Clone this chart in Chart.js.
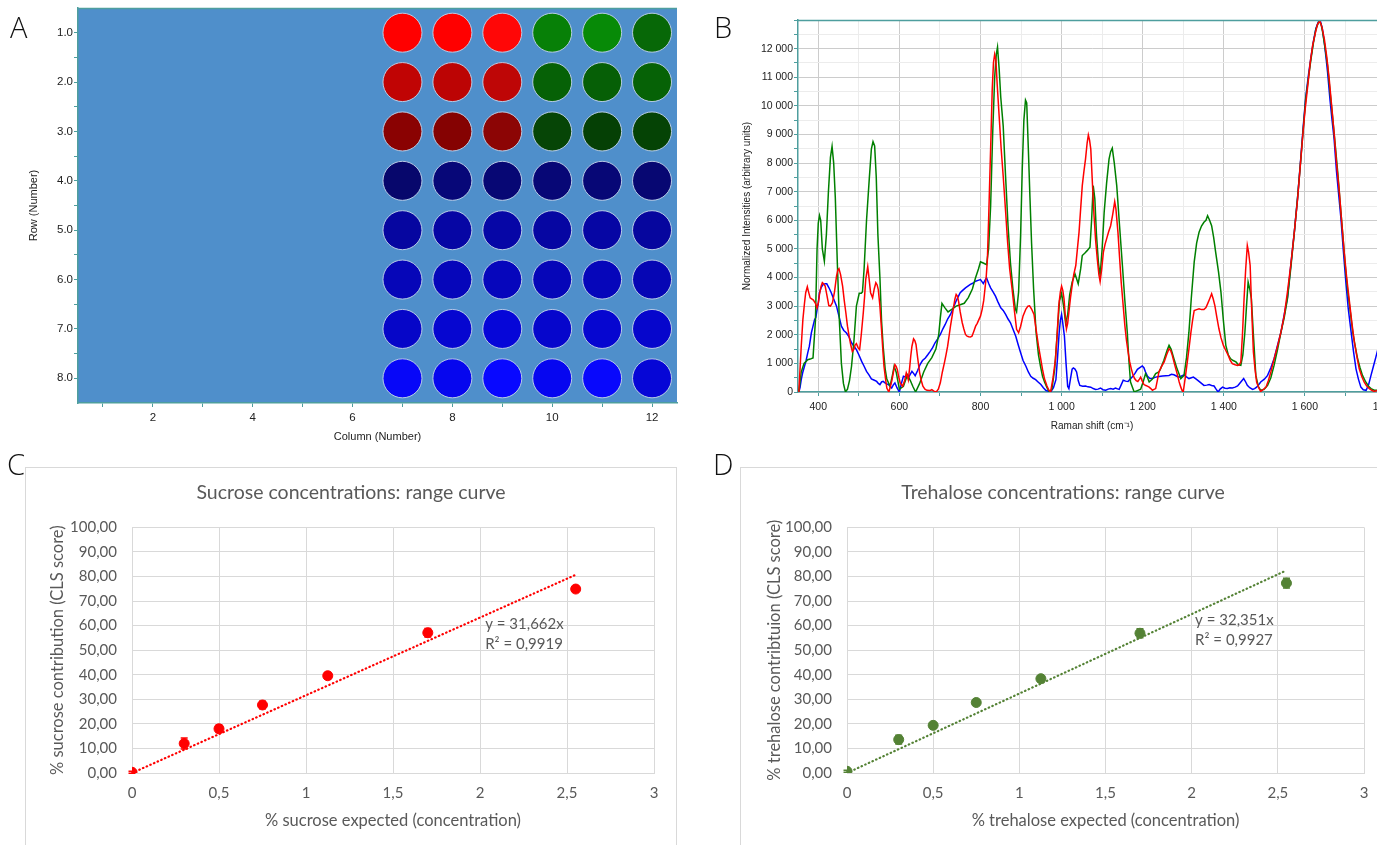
<!DOCTYPE html>
<html lang="en">
<head>
  <meta charset="UTF-8" />
  <title>Plate map, Raman spectra and range curves</title>
  <script src="https://cdn.jsdelivr.net/npm/chart.js"></script>
  <style>
    html, body { margin: 0; padding: 0; background: #fff; overflow: hidden; width: 1377px; height: 845px; }
    .panel { position: absolute; }
    .frame { position: absolute; border: 1px solid #d9d9d9; background: #fff; }
    .frame canvas { display: block; }
    .tag { position: absolute; font-family: 'Open Sans', 'Liberation Sans', sans-serif; font-weight: 300; font-size: 29px; line-height: 1; color: #111; }
  </style>
</head>
<body>
  <canvas id="plate" class="panel" width="690" height="450" style="left:0;top:0"></canvas>
  <canvas id="raman" class="panel" width="720" height="450" style="left:690px;top:0"></canvas>
  <div class="frame" style="left:25px;top:467px"><canvas id="sucrose" width="650" height="377"></canvas></div>
  <div class="frame" style="left:740px;top:467px"><canvas id="trehalose" width="644" height="377"></canvas></div>

  <div class="tag" style="left:10px;top:12px">A</div>
  <div class="tag" style="left:714px;top:12px">B</div>
  <div class="tag" style="left:7px;top:449px">C</div>
  <div class="tag" style="left:713px;top:449px">D</div>

  <script>
    // ---------- A: plate map ----------
    const plateRows = [1, 2, 3, 4, 5, 6, 7, 8];
    const plateCols = [7, 8, 9, 10, 11, 12];
    const wellColors = [
      ['#ff0000', '#ff0000', '#ff0707', '#078007', '#078a07', '#076807'],
      ['#c00404', '#bc0404', '#be0606', '#066106', '#065f06', '#066206'],
      ['#8a0202', '#850202', '#8c0505', '#064506', '#054005', '#054305'],
      ['#07076c', '#070778', '#070774', '#070776', '#070776', '#070772'],
      ['#0606a0', '#0606a4', '#0606a6', '#0606a2', '#0606a4', '#06069e'],
      ['#0606b8', '#0606ba', '#0606bc', '#0606b8', '#0606ba', '#0606b4'],
      ['#0606c8', '#0606d0', '#0606d8', '#0606cc', '#0606d0', '#0606cc'],
      ['#0707f8', '#0606ee', '#0808ff', '#0606f0', '#0808fc', '#0606d6']
    ];
    const plateColTicks = [1, 2, 3, 4, 5, 6, 7, 8, 9, 10, 11, 12];
    const plateRowTicks = [1, 1.5, 2, 2.5, 3, 3.5, 4, 4.5, 5, 5.5, 6, 6.5, 7, 7.5, 8];

    // ---------- B: Raman spectra [shift, intensity] ----------
    const redSpectrum = [[352,0],[355,800],[358,1600],[362,2530],[366,3100],[369,3470],[373,3680],[376,3500],[380,3290],[388,3210],[393,3100],[397,2940],[400,3100],[403,3410],[407,3700],[410,3820],[413,3780],[417,3700],[421,3400],[426,3020],[430,3000],[435,3120],[440,3500],[445,4050],[448,4250],[451,4310],[455,4100],[460,3700],[464,3200],[468,2770],[472,2300],[476,1950],[480,1650],[484,1420],[488,1500],[491,1650],[494,1690],[498,1550],[502,1480],[506,2000],[511,2770],[514,3300],[517,3930],[520,4200],[522,4380],[525,4000],[529,3470],[534,3290],[538,3600],[542,3820],[545,3750],[548,3580],[552,3000],[556,2180],[559,1500],[562,900],[566,450],[569,140],[574,0],[578,200],[582,430],[586,750],[589,960],[592,900],[595,780],[598,550],[602,320],[608,200],[613,400],[617,670],[620,550],[622,430],[625,800],[628,1250],[631,1600],[635,1860],[638,1800],[641,1660],[645,1200],[650,670],[654,400],[658,200],[663,100],[668,60],[675,50],[680,80],[685,30],[691,0],[696,100],[701,320],[706,700],[711,1020],[715,1300],[719,1600],[723,2000],[726,2300],[730,2650],[734,3000],[737,3250],[740,3410],[743,3350],[746,3170],[750,2800],[755,2420],[759,2200],[763,2010],[767,1950],[771,1930],[775,1920],[779,1950],[783,2100],[788,2300],[792,2400],[796,2530],[800,2650],[804,2880],[808,3200],[810,3470],[814,4000],[817,4630],[820,6000],[823,7500],[826,9000],[829,10600],[832,11500],[835,11800],[838,11600],[841,10800],[846,9650],[851,8500],[856,7550],[862,6300],[867,5220],[872,4300],[878,3590],[884,2800],[889,2190],[894,2070],[899,2300],[905,2660],[912,2900],[917,3000],[921,3010],[926,2900],[932,2710],[937,2200],[943,1610],[948,1200],[953,790],[958,450],[964,210],[968,80],[973,0],[979,500],[985,1160],[989,2000],[993,3020],[997,3500],[1000,3700],[1003,3550],[1006,3260],[1009,2700],[1012,2210],[1015,2400],[1018,2790],[1022,3300],[1026,3720],[1030,4100],[1035,4420],[1039,5000],[1043,5580],[1047,6400],[1051,7210],[1055,7700],[1059,8140],[1063,8700],[1066,8980],[1069,8800],[1072,8490],[1076,7300],[1080,6160],[1084,5300],[1088,4650],[1092,4100],[1095,3860],[1099,4300],[1103,4880],[1107,5150],[1111,5350],[1116,5600],[1121,5810],[1126,6200],[1131,6650],[1134,6400],[1139,5580],[1143,4700],[1147,3840],[1152,3000],[1156,2330],[1160,1800],[1164,1400],[1168,1050],[1172,810],[1176,600],[1180,470],[1184,400],[1188,370],[1192,450],[1195,520],[1199,380],[1203,260],[1209,220],[1216,170],[1220,120],[1224,60],[1228,90],[1232,120],[1236,400],[1240,700],[1246,880],[1253,1050],[1259,1300],[1265,1510],[1269,1450],[1273,1280],[1279,950],[1286,580],[1290,350],[1294,170],[1297,60],[1300,0],[1305,500],[1310,1050],[1314,1500],[1319,2090],[1323,2500],[1327,2850],[1333,2880],[1339,2910],[1345,2880],[1351,2880],[1356,2950],[1360,3080],[1365,3250],[1370,3430],[1374,3250],[1378,3020],[1383,2600],[1388,2210],[1393,1900],[1399,1630],[1405,1450],[1411,1280],[1416,1100],[1421,990],[1428,950],[1434,930],[1438,950],[1442,1050],[1446,2000],[1450,3260],[1454,4300],[1458,5120],[1461,4900],[1465,4420],[1469,2800],[1473,1400],[1477,800],[1481,350],[1486,150],[1491,20],[1497,80],[1504,170],[1510,400],[1516,700],[1524,1150],[1533,1630],[1541,2100],[1549,2670],[1557,3500],[1565,4420],[1574,5600],[1582,6750],[1588,7800],[1594,8840],[1600,9800],[1607,10700],[1613,11500],[1619,12100],[1625,12500],[1631,12850],[1637,12970],[1642,12750],[1648,12330],[1654,11700],[1660,10930],[1666,10000],[1672,9070],[1678,8000],[1685,6980],[1691,5900],[1697,4880],[1703,4000],[1710,3140],[1716,2400],[1722,1740],[1728,1250],[1734,810],[1740,550],[1746,350],[1752,220],[1759,120],[1765,60],[1771,20],[1780,60],[1790,150]];

    const greenSpectrum = [[352,0],[358,700],[365,1000],[374,1130],[380,1150],[387,1190],[393,2500],[397,5000],[400,5900],[403,6170],[406,6000],[410,5000],[415,4570],[420,5500],[425,7000],[430,8200],[434,8580],[438,8000],[442,6800],[447,4500],[452,2500],[457,1000],[462,300],[467,0],[472,100],[477,400],[482,900],[488,1800],[494,3000],[501,3450],[506,3450],[509,3500],[513,4300],[519,6000],[526,7500],[531,8500],[535,8750],[539,8600],[543,7500],[547,5500],[552,4000],[556,2500],[560,1600],[565,800],[569,450],[577,200],[583,600],[587,900],[592,700],[600,100],[610,200],[620,600],[627,400],[633,200],[640,0],[650,300],[660,700],[670,1000],[680,1200],[690,1500],[697,2000],[701,2600],[705,3100],[712,2950],[720,2800],[730,2900],[740,3000],[750,3050],[760,3100],[770,3300],[780,3600],[788,4000],[795,4300],[800,4550],[808,4500],[815,4450],[820,5000],[825,6500],[830,9000],[835,11000],[839,11800],[842,12050],[846,11300],[850,10300],[856,9300],[862,7500],[868,5800],[874,4500],[880,3600],[886,2900],[889,2800],[894,3500],[899,5500],[903,7800],[907,9500],[911,10200],[914,10100],[918,8500],[922,6800],[926,5200],[931,3600],[937,2100],[943,1300],[948,900],[953,550],[958,350],[964,150],[970,0],[976,100],[983,800],[990,2200],[995,3200],[1000,3450],[1005,3000],[1010,2400],[1015,2700],[1020,3400],[1026,3840],[1033,4130],[1041,3780],[1047,4300],[1051,4770],[1057,4850],[1063,4940],[1070,5060],[1074,6000],[1078,7210],[1082,6750],[1086,5500],[1091,4500],[1095,4070],[1100,5000],[1105,6280],[1111,7300],[1117,8140],[1121,8400],[1125,8520],[1130,8000],[1136,7210],[1143,5800],[1150,4420],[1156,3200],[1162,2090],[1166,1100],[1170,350],[1179,0],[1187,50],[1195,100],[1201,350],[1207,640],[1212,500],[1216,350],[1224,450],[1232,640],[1240,700],[1244,810],[1252,1100],[1260,1450],[1265,1630],[1270,1500],[1277,1160],[1285,800],[1294,470],[1302,580],[1308,1200],[1314,2090],[1320,3300],[1327,4540],[1333,5200],[1339,5580],[1345,5800],[1351,5930],[1356,6000],[1360,6160],[1365,6000],[1370,5810],[1375,5400],[1380,4880],[1387,4200],[1393,3490],[1399,2500],[1405,1630],[1411,1300],[1417,1160],[1423,1100],[1430,1050],[1436,950],[1442,930],[1447,1300],[1452,2090],[1456,3000],[1460,3840],[1464,3600],[1468,3260],[1473,2000],[1479,580],[1485,200],[1491,60],[1500,100],[1508,230],[1516,500],[1524,930],[1532,1450],[1541,2090],[1549,2600],[1557,3260],[1565,4300],[1574,5580],[1582,6800],[1590,8140],[1596,9200],[1602,10230],[1609,11000],[1615,11630],[1621,12200],[1627,12680],[1635,12970],[1640,12850],[1644,12560],[1650,12000],[1656,11400],[1662,10500],[1668,9650],[1675,8600],[1681,7680],[1687,6600],[1693,5580],[1699,4500],[1705,3600],[1712,2800],[1718,2090],[1724,1600],[1730,1160],[1736,850],[1742,580],[1750,350],[1757,200],[1763,120],[1771,60],[1779,60],[1790,100]];

    const blueSpectrum = [[352,0],[355,150],[358,430],[362,700],[366,900],[370,1100],[374,1370],[378,1600],[383,2070],[387,2300],[391,2530],[394,2600],[397,2880],[400,3100],[403,3470],[407,3650],[412,3760],[417,3780],[421,3780],[426,3650],[432,3470],[438,3250],[445,3000],[451,2650],[457,2300],[463,2150],[469,2070],[475,1950],[482,1720],[488,1600],[494,1480],[500,1300],[507,1070],[513,900],[519,720],[525,600],[531,460],[537,420],[544,370],[548,300],[552,260],[556,350],[560,370],[566,300],[573,260],[577,200],[581,140],[585,250],[589,320],[594,150],[600,0],[605,300],[610,550],[616,520],[622,490],[626,600],[631,720],[635,650],[639,570],[645,750],[651,960],[657,1100],[664,1190],[670,1300],[676,1420],[682,1550],[688,1720],[694,1850],[701,2010],[707,2200],[713,2360],[719,2550],[726,2710],[732,2900],[738,3120],[744,3300],[750,3470],[756,3550],[763,3640],[769,3700],[775,3760],[781,3800],[788,3870],[794,3900],[800,3930],[804,3850],[807,3790],[811,3900],[815,3990],[820,3800],[825,3640],[831,3500],[837,3350],[843,3150],[850,2940],[856,2850],[862,2710],[868,2550],[874,2420],[880,2200],[887,1950],[893,1650],[899,1370],[905,1100],[912,900],[918,700],[924,550],[930,480],[936,430],[942,350],[949,260],[955,150],[961,60],[967,30],[974,20],[980,150],[986,430],[990,1200],[994,2070],[997,2500],[1000,2710],[1003,2400],[1007,1950],[1011,1000],[1015,200],[1018,120],[1022,470],[1026,800],[1029,840],[1033,800],[1037,700],[1041,400],[1045,230],[1052,200],[1059,210],[1065,180],[1072,170],[1078,120],[1084,90],[1090,100],[1096,140],[1102,80],[1109,60],[1115,100],[1121,120],[1127,100],[1133,140],[1138,110],[1142,90],[1147,250],[1152,410],[1158,380],[1164,370],[1169,450],[1174,520],[1181,650],[1187,790],[1193,850],[1199,910],[1203,850],[1207,700],[1212,550],[1218,470],[1225,480],[1232,520],[1240,540],[1249,560],[1257,570],[1265,580],[1271,620],[1277,600],[1284,550],[1290,520],[1296,560],[1302,600],[1308,530],[1314,470],[1320,500],[1325,520],[1332,450],[1339,370],[1345,300],[1351,230],[1358,240],[1364,260],[1370,230],[1376,210],[1381,100],[1386,0],[1391,100],[1397,170],[1403,130],[1409,120],[1415,150],[1421,140],[1428,170],[1434,210],[1438,280],[1442,350],[1446,420],[1449,470],[1454,350],[1458,230],[1464,150],[1471,90],[1476,120],[1481,170],[1486,250],[1491,350],[1500,450],[1508,580],[1516,850],[1524,1160],[1532,1600],[1541,2090],[1549,2700],[1557,3300],[1565,4400],[1574,5600],[1582,6800],[1590,8200],[1596,9300],[1602,10300],[1609,11100],[1615,11700],[1621,12250],[1627,12700],[1633,12930],[1638,12970],[1643,12700],[1648,12200],[1652,11700],[1656,11160],[1662,10200],[1667,9500],[1672,8840],[1678,7700],[1684,6800],[1689,6050],[1695,4900],[1701,3840],[1707,2900],[1714,2090],[1720,1400],[1726,810],[1732,450],[1738,170],[1744,80],[1751,60],[1757,250],[1763,580],[1769,900],[1775,1220],[1780,1500],[1790,2000]];

    const ramanShiftTicks = [400, 500, 600, 700, 800, 900, 1000, 1100, 1200, 1300, 1400, 1500, 1600, 1700, 1800];
    const intensityTicks = [0, 500, 1000, 1500, 2000, 2500, 3000, 3500, 4000, 4500, 5000, 5500, 6000, 6500, 7000, 7500, 8000, 8500, 9000, 9500, 10000, 10500, 11000, 11500, 12000, 12500, 13000];

    // ---------- C / D: range curves ----------
    const expectedConc = [0, 0.3, 0.5, 0.75, 1.125, 1.7, 2.55];
    const sucroseScore = [0.3, 12.0, 18.0, 27.7, 39.6, 57.1, 74.9];
    const sucroseErr = [0.4, 2.2, 1.5, 1.5, 1.3, 1.7, 1.1];
    const trehaloseScore = [0.7, 13.6, 19.4, 28.7, 38.4, 56.9, 77.3];
    const trehaloseErr = [0.4, 1.8, 1.0, 1.2, 1.2, 1.8, 2.0];
    const trendConc = [0, 2.55];
    const sucroseTrend = [0, 80.7];
    const trehaloseTrend = [0, 82.5];
    const concTicks = [0, 0.5, 1, 1.5, 2, 2.5, 3];
    const scoreTicks = [0, 10, 20, 30, 40, 50, 60, 70, 80, 90, 100];

    const narrow = "'Liberation Sans Narrow', 'Liberation Sans', Arial, sans-serif";
    const arial = "'Liberation Sans', Arial, sans-serif";
    const calib = "Lato, 'Open Sans', sans-serif";
    const teal = '#4e9e9e';
    Chart.defaults.animation = false;

    const setTicks = list => s => { s.ticks = list.map(v => ({ value: v })); };
    const spaced = v => String(v).replace(/\B(?=(\d{3})+(?!\d))/g, ' ');

    const plotFill = {
      id: 'plotFill',
      beforeDraw(chart, args, opts) {
        if (!opts.color) return;
        const { ctx, chartArea: a } = chart;
        ctx.save();
        ctx.fillStyle = opts.color;
        ctx.fillRect(a.left, a.top, a.right - a.left, a.bottom - a.top);
        ctx.restore();
      }
    };

    const topEdge = {
      id: 'topEdge',
      afterDraw(chart, args, opts) {
        if (!opts.color) return;
        const { ctx, chartArea: a } = chart;
        ctx.save();
        ctx.strokeStyle = opts.color;
        ctx.lineWidth = opts.width || 1;
        ctx.beginPath();
        ctx.moveTo(a.left, a.top + 0.5);
        ctx.lineTo(a.right, a.top + 0.5);
        ctx.stroke();
        ctx.restore();
      }
    };

    const errorBars = {
      id: 'errorBars',
      afterDatasetsDraw(chart) {
        const { ctx, scales: { x, y } } = chart;
        chart.data.datasets.forEach(ds => {
          if (!ds.errors) return;
          ctx.save();
          ctx.strokeStyle = ds.backgroundColor;
          ctx.lineWidth = 1.5;
          ds.data.forEach((p, k) => {
            const px = x.getPixelForValue(p.x);
            const hi = y.getPixelForValue(p.y + ds.errors[k]);
            const lo = y.getPixelForValue(p.y - ds.errors[k]);
            ctx.beginPath();
            ctx.moveTo(px, hi); ctx.lineTo(px, lo);
            ctx.moveTo(px - 3.5, hi); ctx.lineTo(px + 3.5, hi);
            ctx.moveTo(px - 3.5, lo); ctx.lineTo(px + 3.5, lo);
            ctx.stroke();
          });
          ctx.restore();
        });
      }
    };

    const eqLabel = {
      id: 'eqLabel',
      afterDraw(chart, args, opts) {
        if (!opts.lines) return;
        const { ctx, scales: { x, y } } = chart;
        ctx.save();
        ctx.font = opts.font;
        ctx.fillStyle = opts.color;
        ctx.textBaseline = 'middle';
        opts.lines.forEach((t, i) => {
          ctx.fillText(t, x.getPixelForValue(opts.at[0]), y.getPixelForValue(opts.at[1]) + i * opts.gap);
        });
        ctx.restore();
      }
    };

    // ---------- A ----------
    const wells = [];
    plateRows.forEach((r, i) => plateCols.forEach((c, j) => wells.push({ x: c, y: r, color: wellColors[i][j] })));

    new Chart(document.getElementById('plate'), {
      type: 'scatter',
      data: {
        datasets: [{
          data: wells.map(w => ({ x: w.x, y: w.y })),
          backgroundColor: wells.map(w => w.color),
          borderColor: 'rgba(190,208,232,0.95)',
          borderWidth: 1,
          pointRadius: 19.5,
          pointHoverRadius: 19.5
        }]
      },
      options: {
        responsive: false,
        layout: { autoPadding: false, padding: { top: 8, right: 13, left: 0, bottom: 0 } },
        plugins: { legend: { display: false }, tooltip: { enabled: false }, plotFill: { color: '#4f8fcb' }, topEdge: { color: teal, width: 1.5 } },
        scales: {
          x: {
            type: 'linear', min: 0.5, max: 12.5,
            afterBuildTicks: setTicks(plateColTicks),
            afterFit: s => { s.height = 47; },
            ticks: { autoSkip: false, maxRotation: 0, padding: 4, color: '#222', font: { family: narrow, size: 11.5 },
                     callback: v => (v % 2 === 0 ? String(v) : '') },
            grid: { drawOnChartArea: false, tickLength: 4, tickColor: teal },
            border: { color: teal, width: 1.5 },
            title: { display: true, text: 'Column (Number)', color: '#222', font: { family: narrow, size: 11 }, padding: { top: 0, bottom: 6 } }
          },
          y: {
            type: 'linear', reverse: true, min: 0.5, max: 8.5,
            afterBuildTicks: setTicks(plateRowTicks),
            afterFit: s => { s.width = 78; },
            ticks: { autoSkip: false, padding: 1, color: '#222', font: { family: narrow, size: 11.5 },
                     callback: v => (Number.isInteger(v) ? v.toFixed(1) : '') },
            grid: { drawOnChartArea: false, tickLength: 4, tickColor: teal },
            border: { color: teal, width: 1.5 },
            title: { display: true, text: 'Row (Number)', color: '#222', font: { family: narrow, size: 11 }, padding: { top: 27, bottom: 0 } }
          }
        }
      },
      plugins: [plotFill, topEdge]
    });

    // ---------- B ----------
    const toXY = arr => arr.map(([x, y]) => ({ x, y }));
    new Chart(document.getElementById('raman'), {
      type: 'line',
      data: {
        datasets: [
          { data: toXY(redSpectrum), borderColor: '#ff0000' },
          { data: toXY(greenSpectrum), borderColor: '#008000' },
          { data: toXY(blueSpectrum), borderColor: '#0000ff' }
        ].map(d => Object.assign(d, { borderWidth: 1.5, pointRadius: 0, tension: 0, fill: false }))
      },
      options: {
        responsive: false,
        parsing: false,
        layout: { autoPadding: false, padding: { top: 20, right: 24, left: 0, bottom: 0 } },
        plugins: { legend: { display: false }, tooltip: { enabled: false }, topEdge: { color: teal, width: 1.5 } },
        scales: {
          x: {
            type: 'linear', min: 350, max: 1800,
            afterBuildTicks: setTicks(ramanShiftTicks),
            afterFit: s => { s.height = 58; },
            ticks: { autoSkip: false, maxRotation: 0, padding: 5, color: '#222', font: { family: arial, size: 10.5 },
                     callback: v => (v % 200 === 0 ? spaced(v) : '') },
            grid: { color: c => (c.tick && c.tick.value % 200 === 0 ? '#cccccc' : '#ececec'), tickLength: 4, tickColor: teal },
            border: { color: teal, width: 1.5 },
            title: { display: true, text: 'Raman shift (cm⁻¹)', color: '#222', font: { family: arial, size: 10 }, padding: { top: 0, bottom: 18 } }
          },
          y: {
            type: 'linear', min: 0, max: 13000,
            afterBuildTicks: setTicks(intensityTicks),
            afterFit: s => { s.width = 108; },
            ticks: { autoSkip: false, padding: 1, color: '#222', font: { family: arial, size: 10.5 },
                     callback: v => (v % 1000 === 0 && v < 13000 ? spaced(v) : '') },
            grid: { color: c => (c.tick && c.tick.value % 1000 === 0 ? '#cccccc' : '#ececec'), tickLength: 4, tickColor: teal },
            border: { color: teal, width: 1.5 },
            title: { display: true, text: 'Normalized Intensities (arbitrary units)', color: '#222', font: { family: arial, size: 10 }, padding: { top: 51, bottom: 0 } }
          }
        }
      },
      plugins: [topEdge]
    });

    // ---------- C / D ----------
    function rangeCurve(id, title, xTitle, yTitle, scores, errs, trend, color, eq, yTitlePad, rightGap) {
      return new Chart(document.getElementById(id), {
        data: {
          datasets: [
            {
              type: 'scatter',
              data: expectedConc.map((c, i) => ({ x: c, y: scores[i] })),
              errors: errs,
              backgroundColor: color,
              borderColor: color,
              pointRadius: 5,
              pointHoverRadius: 5
            },
            {
              type: 'line',
              data: trendConc.map((c, i) => ({ x: c, y: trend[i] })),
              borderColor: color,
              borderWidth: 2.2,
              borderDash: [0.5, 3.5],
              borderCapStyle: 'round',
              pointRadius: 0,
              fill: false
            }
          ]
        },
        options: {
          responsive: false,
          layout: { autoPadding: false, padding: 0 },
          plugins: {
            legend: { display: false },
            tooltip: { enabled: false },
            title: { display: true, text: title, color: '#595959', font: { family: calib, size: 19.5, weight: 'normal' }, padding: { top: 13, bottom: 23 } },
            eqLabel: eq
          },
          scales: {
            x: {
              type: 'linear', min: 0, max: 3,
              afterBuildTicks: setTicks(concTicks),
              afterFit: s => { s.height = 72; },
              ticks: { autoSkip: false, maxRotation: 0, padding: 11, color: '#595959', font: { family: calib, size: 15 },
                       callback: v => String(v).replace('.', ',') },
              grid: { color: '#d9d9d9', drawTicks: false },
              border: { color: '#d9d9d9' },
              title: { display: true, text: xTitle, color: '#595959', font: { family: calib, size: 16.5 }, padding: { top: 0, bottom: 14 } }
            },
            y: {
              type: 'linear', min: 0, max: 100,
              afterBuildTicks: setTicks(scoreTicks),
              afterFit: s => { s.width = 106; },
              ticks: { autoSkip: false, padding: 15, color: '#595959', font: { family: calib, size: 15 },
                       callback: v => v.toFixed(2).replace('.', ',') },
              grid: { color: '#d9d9d9', drawTicks: false },
              border: { color: '#d9d9d9' },
              title: { display: true, text: yTitle, color: '#595959', font: { family: calib, size: 16.5 }, padding: { top: yTitlePad, bottom: 0 } }
            },
            gap: {
              type: 'linear', position: 'right', display: true,
              afterFit: s => { s.width = rightGap; },
              ticks: { display: false },
              grid: { display: false, drawTicks: false },
              border: { display: false }
            }
          }
        },
        plugins: [errorBars, eqLabel]
      });
    }

    rangeCurve('sucrose', 'Sucrose concentrations: range curve', '% sucrose expected (concentration)',
      '% sucrose contribution (CLS score)', sucroseScore, sucroseErr, sucroseTrend, '#ff0000',
      { lines: ['y = 31,662x', 'R² = 0,9919'], at: [2.03, 60.8], gap: 20, font: '15px ' + calib, color: '#595959' }, 22, 22);

    rangeCurve('trehalose', 'Trehalose concentrations: range curve', '% trehalose expected (concentration)',
      '% trehalose contribtuion (CLS score)', trehaloseScore, trehaloseErr, trehaloseTrend, '#548235',
      { lines: ['y = 32,351x', 'R² = 0,9927'], at: [2.02, 62.4], gap: 20, font: '15px ' + calib, color: '#595959' }, 24, 21);
  </script>
</body>
</html>
